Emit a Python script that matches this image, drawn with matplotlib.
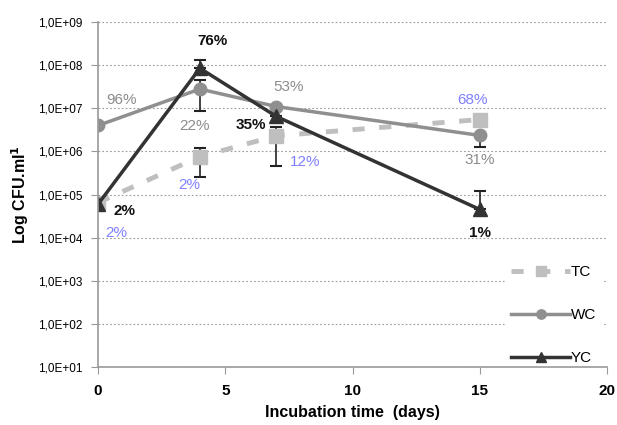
import matplotlib.pyplot as plt
import numpy as np

plt.rcParams['font.family'] = ['Liberation Sans', 'DejaVu Sans']

days = [0, 4, 7, 15]

tc = [6.5e4, 7.6e5, 2.3e6, 5.5e6]
tc_low = [6.5e4, 2.6e5, 4.7e5, 5.0e6]
tc_high = [6.5e4, 1.2e6, 3.7e6, 5.5e6]

wc = [4.0e6, 2.8e7, 1.1e7, 2.35e6]
wc_low = [4.0e6, 8.5e6, 1.1e7, 1.3e6]
wc_high = [4.0e6, 4.5e7, 1.1e7, 2.35e6]

yc = [6.0e4, 8.5e7, 6.5e6, 4.5e4]
yc_low = [6.0e4, 8.5e7, 6.5e6, 4.5e4]
yc_high = [6.0e4, 1.3e8, 6.5e6, 1.2e5]

# percentage labels: (x, y, text, colour, bold)
labels = [
    (4.5, 3.6e8, "76%", "#111111", True),
    (0.9, 1.6e7, "96%", "#8c8c8c", False),
    (3.8, 3.8e6, "22%", "#8c8c8c", False),
    (6.0, 4.0e6, "35%", "#111111", True),
    (7.5, 3.1e7, "53%", "#8c8c8c", False),
    (8.15, 5.8e5, "12%", "#8080ff", False),
    (3.6, 1.7e5, "2%", "#8080ff", False),
    (1.05, 4.2e4, "2%", "#111111", True),
    (0.7, 1.3e4, "2%", "#8080ff", False),
    (14.7, 1.6e7, "68%", "#8080ff", False),
    (15.0, 6.2e5, "31%", "#8c8c8c", False),
    (15.0, 1.3e4, "1%", "#111111", True),
]

fig = plt.figure(figsize=(6.17, 4.25), dpi=100)
ax = fig.add_axes([0.159, 0.1365, 0.825, 0.8115])
ax.set_yscale("log")


def draw(y, lo, hi, color, marker, ls, ms, lw, name):
    y = np.array(y)
    err = [np.clip(y - np.array(lo), 0, None), np.clip(np.array(hi) - y, 0, None)]
    ax.errorbar(days, y, yerr=err, fmt="none", ecolor="#222222",
                elinewidth=1.2, capsize=4, capthick=1.5, zorder=3)
    ax.plot(days, y, color=color, marker=marker, ls=ls, lw=lw,
            ms=ms, label=name, zorder=4)


draw(tc, tc_low, tc_high, "#bfbfbf", "s", (0, (2.5, 3)), 10, 3.5, "TC")
draw(wc, wc_low, wc_high, "#8f8f8f", "o", "-", 9, 2.5, "WC")
draw(yc, yc_low, yc_high, "#333333", "^", "-", 10, 2.5, "YC")

for x, y, t, c, b in labels:
    ax.text(x, y, t, color=c, fontsize=11, ha="center", va="center",
            fontweight="bold" if b else "normal")

ax.set_xlim(0, 20)
ax.set_ylim(10, 1e9)
ax.set_xticks([0, 5, 10, 15, 20])
ax.set_yticks([10.0 ** k for k in range(1, 10)])
ax.set_yticklabels([f"1,0E+{k:02d}" for k in range(1, 10)])
ax.minorticks_off()
ax.tick_params(axis="y", labelsize=8.5, length=5, pad=6, color="#999999")
ax.tick_params(axis="x", labelsize=11, length=5, pad=7, color="#999999")
for lab in ax.get_xticklabels():
    lab.set_fontweight("bold")
ax.grid(axis="y", ls=(0, (1.5, 2)), color="#999999", lw=0.8)
for s in ["top", "right"]:
    ax.spines[s].set_visible(False)
for s in ["left", "bottom"]:
    ax.spines[s].set_color("#999999")
    ax.spines[s].set_linewidth(1.2)
    ax.spines[s].set_zorder(6)

ax.set_xlabel("Incubation time  (days)", fontsize=11.5, fontweight="bold", labelpad=5)
ax.set_ylabel("Log CFU.ml$^{\\mathbf{1}}$", fontsize=11.5, fontweight="bold", labelpad=5)

leg = ax.legend(loc="lower right", bbox_to_anchor=(1.0, -0.025), frameon=True,
                edgecolor="white", framealpha=1, fontsize=11, handlelength=3.8,
                labelspacing=1.9, handletextpad=0.1, borderaxespad=0.3,
                markerscale=0.75)

fig.savefig("out.png", dpi=100)
